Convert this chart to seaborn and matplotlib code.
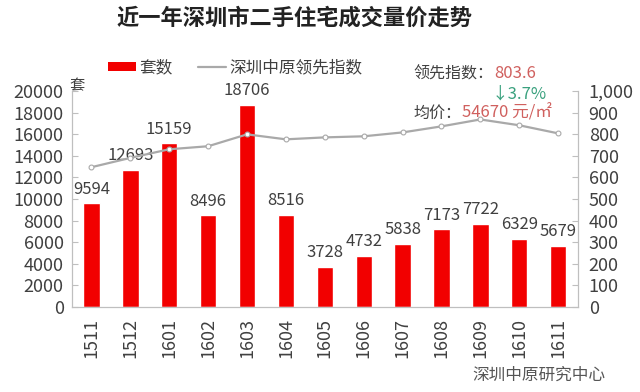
import numpy as np
import pandas as pd
import matplotlib
matplotlib.use("Agg")
import matplotlib.pyplot as plt
import seaborn as sns
from matplotlib.patches import Patch
from matplotlib.lines import Line2D
from matplotlib.ticker import FuncFormatter

# datos
meses = ["1511", "1512", "1601", "1602", "1603", "1604", "1605",
         "1606", "1607", "1608", "1609", "1610", "1611"]
taoshu = [9594, 12693, 15159, 8496, 18706, 8516, 3728,
          4732, 5838, 7173, 7722, 6329, 5679]
zhishu = [647, 690, 730, 744, 799, 776, 785,
          790, 808, 836, 868, 841, 803.6]

sns.set_style("white")
plt.rcParams['font.family'] = ['Noto Sans CJK SC', 'DejaVu Sans']

gris = "#404040"
rojo = "#f20000"
linea = "#a9a9a9"

df = pd.DataFrame({"mes": meses, "taoshu": taoshu, "zhishu": zhishu})

fig = plt.figure(figsize=(6.4, 3.92), dpi=100)
ax = fig.add_axes([0.1125, 0.217, 0.79, 0.551])

sns.barplot(data=df, x="mes", y="taoshu", color=rojo, width=0.42,
            saturation=1, ax=ax)
ax.set_ylim(0, 20000)
ax.set_yticks(np.arange(0, 20001, 2000))
ax.set_xlabel("")
ax.set_ylabel("")

# etiquetas encima de las barras
for i, v in enumerate(taoshu):
    ax.annotate(str(v), (i, v), xytext=(0, 4), textcoords="offset points",
                ha="center", va="bottom", fontsize=12, color=gris)

ax2 = ax.twinx()
sns.pointplot(data=df, x="mes", y="zhishu", color=linea, markers="o",
              markersize=3.5, linewidth=1.6, markerfacecolor="white",
              markeredgewidth=0.8, ax=ax2)
ax2.set_ylim(0, 1000)
ax2.set_yticks(np.arange(0, 1001, 100))
ax2.yaxis.set_major_formatter(FuncFormatter(lambda v, p: f"{int(v):,}"))
ax2.set_ylabel("")
ax2.set_xlim(-0.5, len(meses) - 0.5)

for a in (ax, ax2):
    for s in a.spines.values():
        s.set_color("#bfbfbf")
        s.set_linewidth(0.8)
    a.spines["top"].set_visible(False)

ax.tick_params(axis="y", direction="in", length=4, color="#bfbfbf",
               labelsize=13, labelcolor=gris, pad=6)
ax2.tick_params(axis="y", direction="in", length=4, color="#bfbfbf",
                labelsize=13, labelcolor=gris, pad=8)
ax.tick_params(axis="x", which="major", length=0, labelsize=13,
               labelcolor=gris, rotation=90, pad=8)
ax.set_xticks(np.arange(-0.5, len(meses), 1), minor=True)
ax.tick_params(axis="x", which="minor", direction="out", length=4,
               color="#bfbfbf")

# titulo
fig.text(0.46, 0.955, "近一年深圳市二手住宅成交量价走势", ha="center",
         va="center", fontsize=16, fontweight="bold", color="#222222")

# leyenda
handles = [Patch(facecolor=rojo, edgecolor="none"),
           Line2D([0], [0], color=linea, lw=1.6)]
fig.legend(handles, ["套数", "深圳中原领先指数"], loc="center left",
           bbox_to_anchor=(0.145, 0.827), ncol=2, frameon=False,
           fontsize=12, handlelength=1.7, handleheight=0.4,
           columnspacing=1.5, handletextpad=0.2, labelcolor=gris)

fig.text(77 / 640, 1 - 86 / 392, "套", ha="center", va="center",
         fontsize=11, color=gris)

# anotaciones
fig.text(413 / 640, 1 - 74 / 392, "领先指数：", ha="left", va="center",
         fontsize=11.5, color=gris)
fig.text(494 / 640, 1 - 74 / 392, "803.6", ha="left", va="center",
         fontsize=12, color="#d0605e")
fig.text(492 / 640, 1 - 94 / 392, "↓3.7%", ha="left", va="center",
         fontsize=12, color="#3aa17e")
fig.text(413 / 640, 1 - 113 / 392, "均价：", ha="left", va="center",
         fontsize=11.5, color=gris)
fig.text(462 / 640, 1 - 113 / 392, "54670 元/㎡", ha="left", va="center",
         fontsize=12, color="#d0605e")

fig.text(605 / 640, 1 - 375 / 392, "深圳中原研究中心", ha="right",
         va="center", fontsize=12, color="#555555")

plt.savefig("out.png", dpi=100)
